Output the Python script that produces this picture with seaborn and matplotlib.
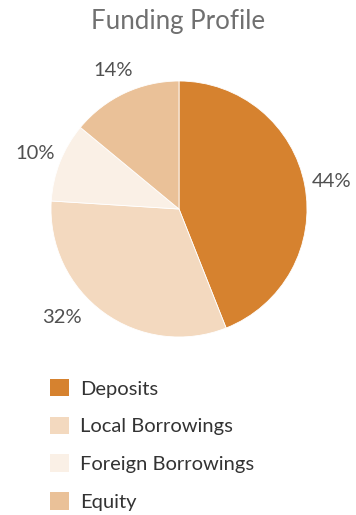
import numpy as np
import matplotlib
matplotlib.use("Agg")
import matplotlib.pyplot as plt
from matplotlib.patches import Patch
import seaborn as sns

# Funding mix (percent of total)
categories = ["Deposits", "Local Borrowings", "Foreign Borrowings", "Equity"]
shares = [44, 32, 10, 14]
palette = ["#D6822F", "#F3D9BF", "#FAF0E6", "#EAC198"]

sns.set_theme(style="white")
plt.rcParams["font.family"] = ["Lato", "DejaVu Sans"]

W, H = 356, 515
fig = plt.figure(figsize=(W / 100, H / 100), dpi=100)
fig.patch.set_facecolor("white")

# Pie centred at (179, 209) px with radius 128 px
cx, cy, r = 179, 209, 128
ax = fig.add_axes([(cx - r) / W, (H - cy - r) / H, 2 * r / W, 2 * r / H])
colors = sns.color_palette(palette)
wedges, texts = ax.pie(
    shares,
    colors=colors,
    startangle=90,
    counterclock=False,
    radius=1.0,
    labels=[f"{v}%" for v in shares],
    labeldistance=1.21,
    wedgeprops=dict(edgecolor="white", linewidth=0.6),
    textprops=dict(fontsize=14.5, color="#505050"),
)
for t in texts:
    t.set_ha("center")
    t.set_va("center_baseline")
# Nudge the lower-left label outward along the rim, as the layout places it
x, y = texts[1].get_position()
texts[1].set_position((x - 0.2, y + 0.14))

ax.set_xlim(-1, 1)
ax.set_ylim(-1, 1)
ax.set_aspect("equal")
ax.axis("off")

fig.text(178 / W, 1 - 21 / H, "Funding Profile", ha="center", va="center",
         fontsize=18.6, color="#707070")

handles = [Patch(facecolor=c, edgecolor="none") for c in colors]
fig.legend(
    handles, categories,
    loc="upper left",
    bbox_to_anchor=(50 / W, 1 - 379 / H),
    frameon=False,
    fontsize=14.5,
    labelcolor="#333333",
    handlelength=0.95,
    handleheight=0.95,
    handletextpad=0.55,
    labelspacing=0.95,
    borderpad=0,
    borderaxespad=0,
)

fig.savefig("out.png", dpi=100, facecolor="white")
